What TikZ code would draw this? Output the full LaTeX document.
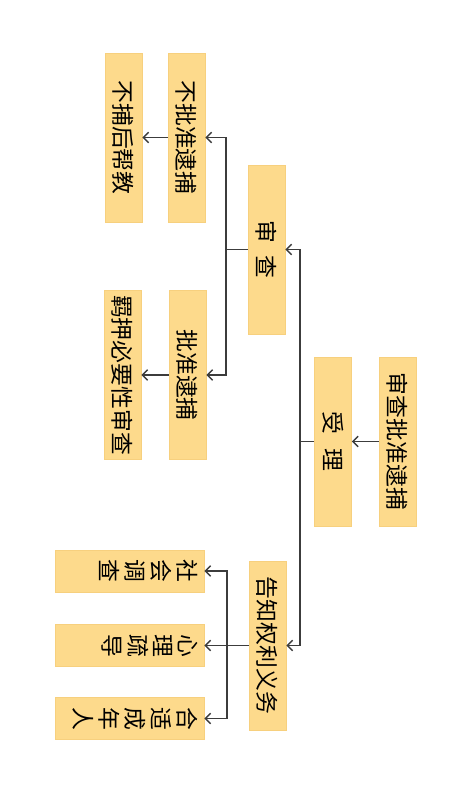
\documentclass[tikz,border=0pt]{standalone}
\usepackage{graphicx}
\usepackage{fontspec}
\usepackage{tikz}
\usetikzlibrary{arrows.meta, positioning, calc}
\newfontfamily\cjk{Noto Sans CJK SC}
\definecolor{boxfill}{HTML}{FDDA8C}
\definecolor{boxedge}{HTML}{F7D07E}
\definecolor{linecol}{HTML}{3C3C3C}
\newcommand{\vtxt}[1]{\rotatebox{-90}{#1}}
\newcommand{\stk}[1]{\rotatebox{-90}{\shortstack{#1}}}
\tikzset{
  box/.style={draw=boxedge, fill=boxfill, line width=0.4pt, inner sep=0pt,
    font=\cjk\fontsize{13}{15}\selectfont, text=black},
  tallbox/.style={box, minimum width=0.74cm, minimum height=3.38cm},
  widebox/.style={box, minimum width=2.98cm, minimum height=0.84cm,
    inner xsep=0.12cm, text width=2.74cm, align=right},
  link/.style={draw=linecol, line width=0.8pt},
  arr/.style={link, -{Straight Barb[length=3pt, width=6pt]}}
}
\begin{document}
\begin{tikzpicture}[x=0.02cm, y=-0.02cm]
  \useasboundingbox (0,0) rectangle (450,800);
  % tall boxes
  \node[tallbox] (spzb) at (397.5,441.5) {\vtxt{审查批准逮捕}};
  \node[tallbox] (sl)   at (333,441.5)   {\vtxt{受\hspace{0.6em}理}};
  \node[tallbox] (sc)   at (266.5,249.5) {\vtxt{审\hspace{0.55em}查}};
  \node[tallbox] (gz)   at (267.5,645.5) {\vtxt{告知权利义务}};
  \node[tallbox] (bpz)  at (186.5,137.5) {\vtxt{不批准逮捕}};
  \node[tallbox] (bbj)  at (123.5,137.5) {\vtxt{不捕后帮教}};
  \node[tallbox] (pz)   at (187.5,375)   {\vtxt{批准逮捕}};
  \node[tallbox] (jy)   at (122.5,375)   {\vtxt{羁押必要性审查}};
  % wide boxes
  \node[widebox] (sh) at (129.5,571)   {\stk{社\\会\\调\\查}};
  \node[widebox] (xl) at (129.5,645.5) {\stk{心\\理\\疏\\导}};
  \node[widebox] (hs) at (129.5,718.5) {\stk{合\\适\\成\\年\\人}};
  % bus points
  \coordinate (b1) at (300,441.5);
  \coordinate (b2) at (226,249.5);
  \coordinate (b3) at (227,645.5);
  % connectors
  \draw[arr] (spzb.west) -- (sl.east);
  \draw[link] (sl.west) -- (b1);
  \draw[arr] (b1) |- (sc.east);
  \draw[arr] (b1) |- (gz.east);
  \draw[link] (sc.west) -- (b2);
  \draw[arr] (b2) |- (bpz.east);
  \draw[arr] (b2) |- (pz.east);
  \draw[arr] (bpz.west) -- (bbj.east);
  \draw[arr] (pz.west) -- (jy.east);
  \draw[arr] (gz.west) -- (xl.east);
  \draw[arr] (b3) |- (sh.east);
  \draw[arr] (b3) |- (hs.east);
\end{tikzpicture}
\end{document}
